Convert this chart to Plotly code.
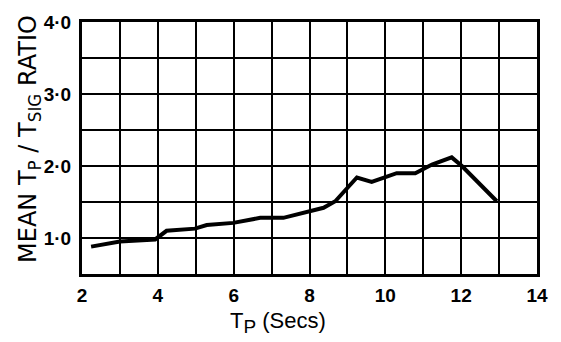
import plotly.graph_objects as go

# Peak period (s) and mean Tp/Tsig ratio
tp_secs = [2.24, 3.0, 3.93, 4.23, 4.98, 5.29, 5.99, 6.7, 7.31, 7.97, 8.37, 8.68,
           8.98, 9.25, 9.64, 10.3, 10.79, 11.23, 11.75, 12.02, 12.94]
ratio = [0.88, 0.95, 0.98, 1.10, 1.13, 1.18, 1.21, 1.28, 1.28, 1.36, 1.42, 1.51,
         1.68, 1.84, 1.78, 1.90, 1.90, 2.02, 2.12, 2.0, 1.51]

x_ticks = [2, 4, 6, 8, 10, 12, 14]
y_ticks = [1, 2, 3, 4]
y_tick_text = ["1·0", "2·0", "3·0", "4·0"]

font_family = "Liberation Sans, Arial, sans-serif"

fig = go.Figure()
fig.add_trace(go.Scatter(
    x=tp_secs, y=ratio, mode="lines",
    line=dict(color="black", width=4),
    hoverinfo="skip", showlegend=False,
))

fig.update_xaxes(
    range=[2, 14], tickvals=x_ticks, ticktext=[str(v) for v in x_ticks],
    showgrid=True, gridcolor="black", gridwidth=2,
    minor=dict(dtick=1, tick0=0, showgrid=True, gridcolor="black", gridwidth=2),
    showline=True, linecolor="black", linewidth=3, mirror=True,
    ticks="", ticklabelstandoff=2,
    tickfont=dict(family=font_family, size=19, color="black", weight="bold"),
    zeroline=False,
)
fig.update_yaxes(
    range=[0.5, 4.0], tickvals=y_ticks, ticktext=y_tick_text,
    showgrid=True, gridcolor="black", gridwidth=2,
    minor=dict(dtick=0.5, tick0=0, showgrid=True, gridcolor="black", gridwidth=2),
    showline=True, linecolor="black", linewidth=3, mirror=True,
    ticks="", ticklabelstandoff=4,
    tickfont=dict(family=font_family, size=19, color="black", weight="bold"),
    zeroline=False,
)

fig.add_annotation(
    text="MEAN T<sub>P</sub> / T<sub>SIG</sub> RATIO",
    xref="paper", yref="paper", x=-0.117, y=0.535, xanchor="center", yanchor="middle",
    textangle=-90, showarrow=False,
    font=dict(family="DejaVu Sans, sans-serif", size=24, color="black"),
)
fig.add_annotation(
    text="T<sub><span style='font-size:19px'>P</span></sub> (Secs)",
    xref="paper", yref="paper", x=0.43, y=-0.125, xanchor="center", yanchor="top",
    showarrow=False,
    font=dict(family=font_family, size=22, color="black"),
)

fig.update_layout(
    width=561, height=342,
    margin=dict(l=82, r=24, t=16, b=68),
    paper_bgcolor="white", plot_bgcolor="white",
)

fig.write_html("out.html")
